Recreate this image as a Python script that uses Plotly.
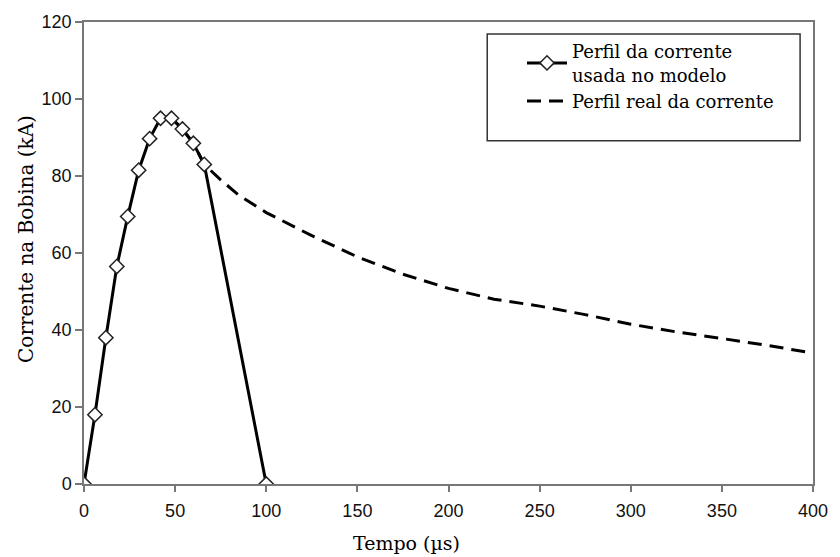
import plotly.graph_objects as go

# Model current profile (diamond markers)
model_t = [0, 6, 12, 18, 24, 30, 36, 42, 48, 54, 60, 66, 100]
model_i = [0, 18, 38, 56.5, 69.5, 81.5, 89.7, 95, 95, 92.2, 88.5, 83, 0]

# Real current profile (dashed)
real_t = [48, 54, 60, 66, 75, 85, 100, 125, 150, 175, 200, 225, 250, 275, 300, 325, 350, 375, 400]
real_i = [95, 92.2, 88.5, 83, 79, 75, 70.5, 64.5, 59, 54.5, 50.8, 48, 46.2, 44, 41.5, 39.5, 37.8, 36, 34]

x_ticks = [0, 50, 100, 150, 200, 250, 300, 350, 400]
y_ticks = [0, 20, 40, 60, 80, 100, 120]

serif = "DejaVu Serif"
sans = "Liberation Sans"

fig = go.Figure()
fig.add_trace(go.Scatter(
    x=real_t, y=real_i, mode="lines",
    name="Perfil real da corrente",
    line=dict(color="black", width=3, dash="14px,8px"),
))
fig.add_trace(go.Scatter(
    x=model_t, y=model_i, mode="lines+markers",
    name="Perfil da corrente<br>usada no modelo",
    line=dict(color="black", width=3),
    marker=dict(symbol="diamond", size=11, color="white",
                line=dict(color="#222", width=1.5)),
))

fig.update_layout(
    width=840, height=557,
    margin=dict(l=84, r=22, t=21, b=73),
    paper_bgcolor="white", plot_bgcolor="white",
    showlegend=True,
    legend=dict(
        x=(525 - 84) / 734, y=(484 - 32) / 463, xanchor="left", yanchor="top",
        traceorder="reversed",
        font=dict(family=serif, size=18, color="black"),
        bgcolor="rgba(0,0,0,0)", borderwidth=0,
        itemwidth=40, tracegroupgap=2,
    ),
    shapes=[dict(
        type="rect", xref="paper", yref="paper",
        x0=(490 - 84) / 734, x1=(805 - 84) / 734,
        y0=(484 - 140) / 463, y1=(484 - 33) / 463,
        line=dict(color="#333", width=1.5), fillcolor="rgba(0,0,0,0)",
    )],
    annotations=[
        dict(text="Tempo (µs)", xref="paper", yref="paper",
             x=(409 - 84) / 734, y=(484 - 543) / 463,
             xanchor="center", yanchor="middle", showarrow=False,
             font=dict(family=serif, size=19, color="black")),
        dict(text="Corrente na Bobina (kA)", xref="paper", yref="paper",
             x=(25 - 84) / 734, y=(484 - 238) / 463, textangle=-90,
             xanchor="center", yanchor="middle", showarrow=False,
             font=dict(family=serif, size=20, color="black")),
    ],
)

fig.update_xaxes(
    range=[0, 400], tickvals=x_ticks, ticktext=[str(v) for v in x_ticks],
    showgrid=False, zeroline=False,
    showline=True, linecolor="#777", linewidth=1.5, mirror=True,
    ticks="outside", ticklen=6, tickcolor="#777", tickwidth=1.5,
    ticklabelstandoff=4,
    tickfont=dict(family=sans, size=18, color="#111"),
)
fig.update_yaxes(
    range=[0, 120], tickvals=y_ticks, ticktext=[str(v) for v in y_ticks],
    showgrid=False, zeroline=False,
    showline=True, linecolor="#777", linewidth=1.5, mirror=True,
    ticks="outside", ticklen=7, tickcolor="#777", tickwidth=1.5,
    tickfont=dict(family=sans, size=18, color="#111"),
)

fig.write_html("out.html")
